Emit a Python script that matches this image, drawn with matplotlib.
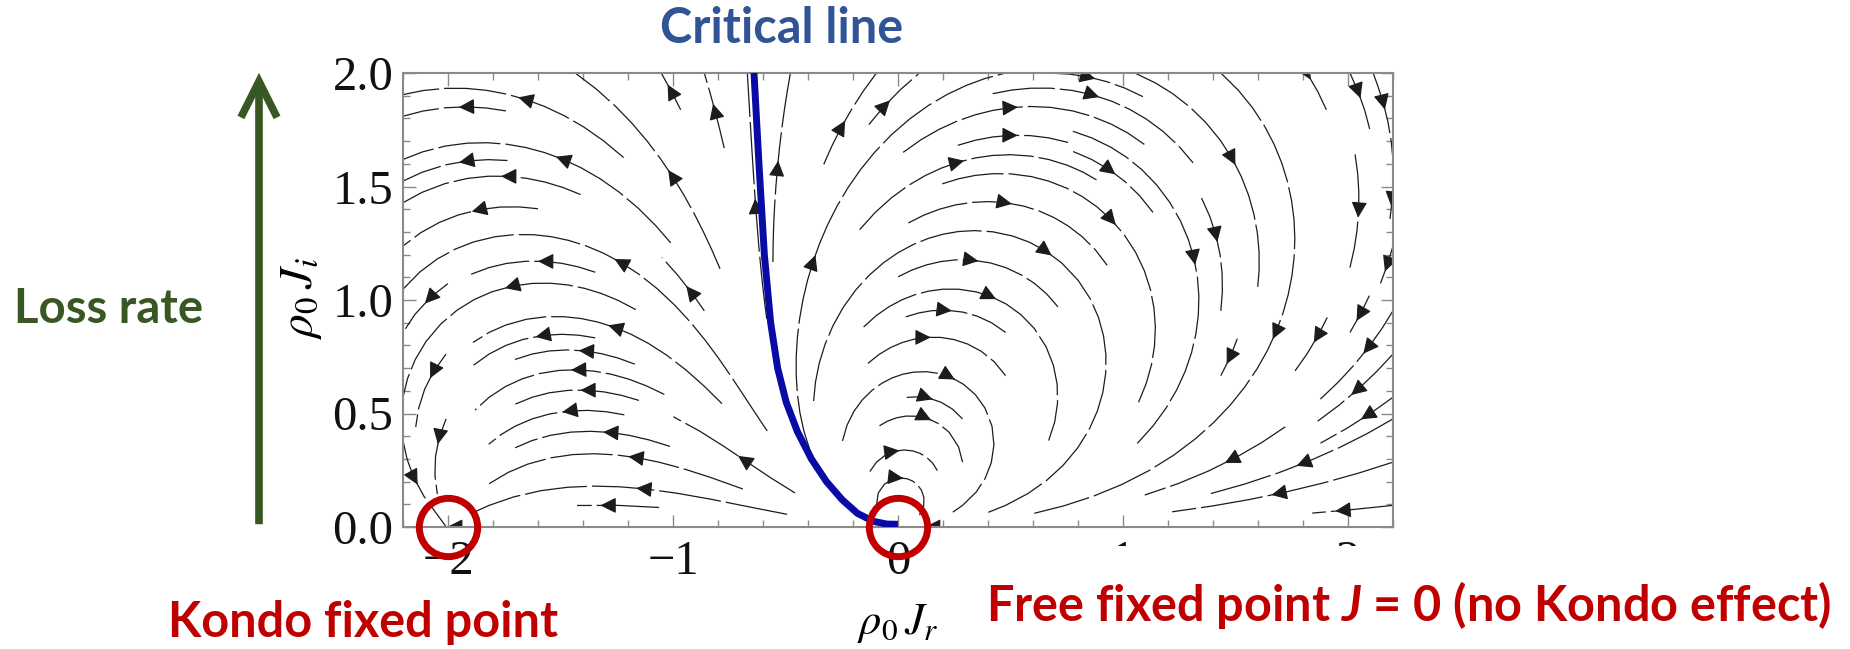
import numpy as np
import matplotlib
matplotlib.use("Agg")
import matplotlib.pyplot as plt
from matplotlib.patches import FancyArrowPatch, Rectangle

W, H, DPI = 1850, 649, 100

# plot window in units of rho0*J
x_range = (-2.2, 2.2)
y_range = (0.0, 2.0)
x_ticks = [-2, -1, 0, 1, 2]
y_ticks = [0.0, 0.5, 1.0, 1.5, 2.0]

# Kondo fixed point and free fixed point on the real axis
fixed_x = [-2.0, 0.0]
fixed_y = [0.0, 0.0]

# separatrix between the two basins (critical line)
crit_x = [-0.640, -0.618, -0.594, -0.566, -0.535, -0.497, -0.447, -0.385,
          -0.318, -0.248, -0.180, -0.110, -0.050, 0.0]
crit_y = [2.0, 1.6, 1.2, 0.9, 0.7, 0.55, 0.42, 0.30,
          0.20, 0.12, 0.06, 0.025, 0.013, 0.012]

RED = "#C00000"
BLUE_TXT = "#2F5597"
GREEN = "#385723"
LINE_BLUE = "#0A0AA6"
FRAME = "#8a8a8a"

plt.rcParams.update({
    "mathtext.fontset": "stix",
    "mathtext.it": "Lato:italic:bold",
    "font.family": "Liberation Serif",
})


def beta(jr, ji):
    # two-loop flow of the complex coupling g = rho0*(Jr + i Ji)
    g = jr + 1j * ji
    dg = -g**2 - 0.5 * g**3
    return dg.real, dg.imag


def px(x, y):
    # pixel position (from top-left) -> figure fraction
    return x / W, 1 - y / H


fig = plt.figure(figsize=(W / DPI, H / DPI), dpi=DPI)
ax = fig.add_axes([403 / W, 1 - 527 / H, 990 / W, 454 / H])

gx = np.linspace(*x_range, 320)
gy = np.linspace(*y_range, 160)
XX, YY = np.meshgrid(gx, gy)
U, V = beta(XX, YY)
mag = np.hypot(U, V) + 1e-9

kw = dict(density=(0.8, 0.75), color="#1c1c1c", linewidth=0.9,
          arrowsize=2.4, arrowstyle="-|>", minlength=0.08)
try:
    sp = ax.streamplot(gx, gy, U / mag, V / mag, num_arrows=4, **kw)
except TypeError:
    sp = ax.streamplot(gx, gy, U / mag, V / mag, **kw)
sp.lines.set_linestyle((0, (50, 4)))

ax.plot(crit_x, crit_y, color=LINE_BLUE, lw=5, solid_capstyle="butt", zorder=4)
ax.plot(fixed_x, fixed_y, "o", mfc="none", mec=RED, ms=42, mew=5,
        clip_on=False, zorder=6)

ax.set_xlim(*x_range)
ax.set_ylim(*y_range)
ax.set_xticks(x_ticks)
ax.set_yticks(y_ticks)
ax.set_yticklabels([f"{v:.1f}" for v in y_ticks])
ax.set_xticks(np.arange(-2.2, 2.21, 0.2), minor=True)
ax.set_yticks(np.arange(0, 2.01, 0.1), minor=True)
ax.tick_params(which="both", direction="in", top=True, right=True,
               color=FRAME, width=1.0, labelsize=35, labelcolor="#111111")
ax.tick_params(which="major", length=9)
ax.tick_params(which="minor", length=5)
ax.tick_params(axis="y", pad=7)
ax.tick_params(axis="x", pad=9)
for s in ax.spines.values():
    s.set_color(FRAME)
    s.set_linewidth(1.5)

ax.set_xlabel(r"$\rho_0\,J_r$", fontsize=32, math_fontfamily="stix")
ax.set_ylabel(r"$\rho_0\,J_i$", fontsize=34, math_fontfamily="stix")
ax.xaxis.set_label_coords(0.5, -0.165)
ax.yaxis.set_label_coords(-0.08, 0.505)

# white band under the annotation hides the right-hand tick labels
fig.add_artist(Rectangle(px(985, 649), 865 / W, (649 - 546) / H,
                         transform=fig.transFigure, facecolor="white",
                         edgecolor="none", zorder=5))

arrow = FancyArrowPatch(px(259, 527), px(259, 70), transform=fig.transFigure,
                        arrowstyle="->,head_length=26,head_width=13",
                        mutation_scale=1, color=GREEN, lw=5.5,
                        capstyle="butt", joinstyle="miter", zorder=6)
fig.add_artist(arrow)

lab = dict(family="Lato", fontweight="bold", ha="center", va="baseline", zorder=7)
fig.text(*px(782, 43), "Critical line", color=BLUE_TXT, fontsize=35, **lab)
fig.text(*px(109, 323), "Loss rate", color=GREEN, fontsize=34, **lab)
fig.text(*px(363, 637), "Kondo fixed point", color=RED, fontsize=35, **lab)
fig.text(*px(1409, 621), "Free fixed point $J$ = 0 (no Kondo effect)",
         color=RED, fontsize=35, math_fontfamily="custom", **lab)

fig.savefig("out.png", dpi=DPI)
